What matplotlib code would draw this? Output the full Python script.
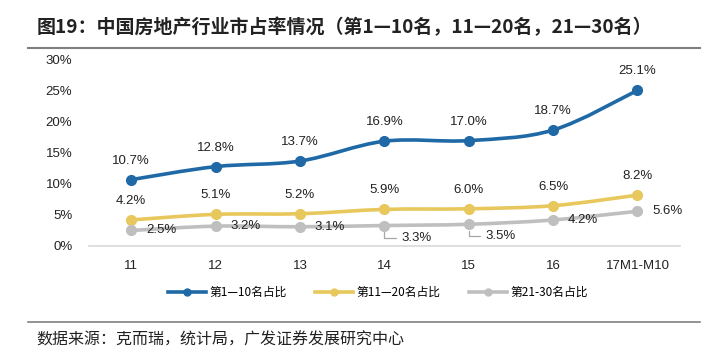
import matplotlib
matplotlib.use("Agg")
import matplotlib.pyplot as plt
from matplotlib.path import Path
from matplotlib.patches import PathPatch
from matplotlib.lines import Line2D

plt.rcParams['font.family'] = ['Liberation Sans', 'Noto Sans CJK SC', 'DejaVu Sans']

categories = ["11", "12", "13", "14", "15", "16", "17M1-M10"]
top1_10 = [10.7, 12.8, 13.7, 16.9, 17.0, 18.7, 25.1]
top11_20 = [4.2, 5.1, 5.2, 5.9, 6.0, 6.5, 8.2]
top21_30 = [2.5, 3.2, 3.1, 3.3, 3.5, 4.2, 5.6]
series_names = ["第1—10名占比", "第11—20名占比", "第21-30名占比"]
colors = ["#1f69a6", "#e8c85c", "#bfbfbf"]


def smooth_path(xs, ys):
    # Excel-style smoothed line as cubic Bezier through the points
    pts = list(zip(xs, ys))
    verts = [pts[0]]
    codes = [Path.MOVETO]
    n = len(pts)
    for i in range(n - 1):
        p0 = pts[i - 1] if i > 0 else pts[i]
        p1 = pts[i]
        p2 = pts[i + 1]
        p3 = pts[i + 2] if i + 2 < n else pts[i + 1]
        c1 = (p1[0] + (p2[0] - p0[0]) / 6, p1[1] + (p2[1] - p0[1]) / 6)
        c2 = (p2[0] - (p3[0] - p1[0]) / 6, p2[1] - (p3[1] - p1[1]) / 6)
        verts += [c1, c2, p2]
        codes += [Path.CURVE4] * 3
    return Path(verts, codes)


fig = plt.figure(figsize=(7.2, 3.61), dpi=100)
ax = fig.add_axes([0.1236, 0.3186, 0.8204, 0.5152])
x = list(range(len(categories)))

for vals, c in zip([top1_10, top11_20, top21_30], colors):
    ax.add_patch(PathPatch(smooth_path(x, vals), fill=False, edgecolor=c,
                           lw=2.6, capstyle='round', zorder=3))
    ax.plot(x, vals, 'o', color=c, ms=7, zorder=4)

lbl = dict(fontsize=9.5, color='#222222', ha='center', va='center')
for i, v in enumerate(top1_10):
    ax.annotate(f"{v:.1f}%", (i, v), xytext=(0, 19), textcoords='offset pixels', **lbl)
for i, v in enumerate(top11_20):
    ax.annotate(f"{v:.1f}%", (i, v), xytext=(0, 19), textcoords='offset pixels', **lbl)
for i, v in enumerate(top21_30):
    if i in (3, 4):
        ax.annotate(f"{v:.1f}%", (i, v), xytext=(32, -12), textcoords='offset pixels',
                    arrowprops=dict(arrowstyle='-', color='#a6a6a6', lw=0.9,
                                    connectionstyle='angle,angleA=180,angleB=90,rad=0',
                                    shrinkA=2, shrinkB=5, relpos=(0, 0.5)),
                    zorder=2, **lbl)
    else:
        ax.annotate(f"{v:.1f}%", (i, v), xytext=(30, 0), textcoords='offset pixels', **lbl)

ax.set_xlim(-0.5, 6.5)
ax.set_ylim(0, 30)
ax.set_xticks(x)
ax.set_xticklabels(categories)
ax.set_yticks(range(0, 31, 5))
ax.set_yticklabels([f"{t}%" for t in range(0, 31, 5)])
ax.tick_params(axis='both', length=0, labelsize=9.5, colors='#222222')
ax.tick_params(axis='y', pad=12)
ax.tick_params(axis='x', pad=10)
for s in ['top', 'right', 'left']:
    ax.spines[s].set_visible(False)
ax.spines['bottom'].set_color('#d9d9d9')
ax.spines['bottom'].set_linewidth(1.2)

handles = [Line2D([0], [0], color=c, lw=2.6, marker='o', ms=5) for c in colors]
fig.legend(handles, series_names, loc='center', bbox_to_anchor=(0.525, 0.19), ncol=3,
           frameon=False, handlelength=3.2, handletextpad=0.3,
           columnspacing=2.4, prop={'family': ['Noto Sans CJK SC'], 'size': 8.5})

fig.text(0.051, 0.925, "图19：中国房地产行业市占率情况（第1—10名，11—20名，21—30名）",
         fontsize=13.7, fontweight='bold', color='#222222', va='center',
         family=['Noto Sans CJK SC'])
fig.add_artist(Line2D([0.039, 0.972], [0.868, 0.868], color='#808080', lw=1.5))
fig.add_artist(Line2D([0.039, 0.972], [0.108, 0.108], color='#808080', lw=1.2))
fig.text(0.051, 0.058, "数据来源：克而瑞，统计局，广发证券发展研究中心",
         fontsize=11.5, color='#222222', va='center', family=['Noto Sans CJK SC'])

fig.savefig("out.png", dpi=100)
